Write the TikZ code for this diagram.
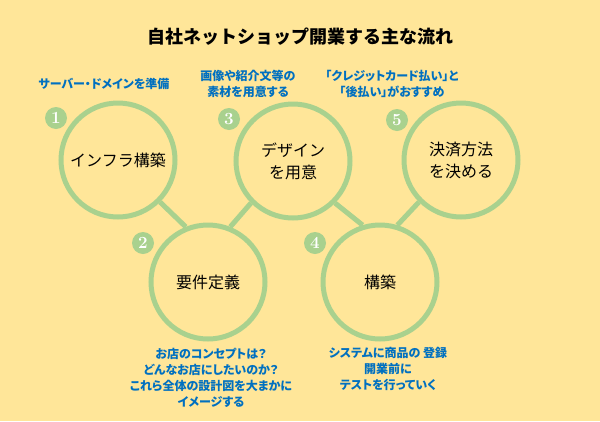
\documentclass[tikz,border=0pt]{standalone}
\usepackage{fontspec}
\newfontfamily\jpfont{Noto Sans CJK JP}
\newfontfamily\jpnote[RawFeature=+palt]{Noto Sans CJK JP}
\definecolor{bgyellow}{HTML}{FFE699}
\definecolor{ringgreen}{HTML}{A9D18E}
\definecolor{noteblue}{HTML}{0070C0}
\tikzset{
  stage/.style={circle, draw=ringgreen, line width=5pt, minimum size=114pt, inner sep=0pt, align=center, font=\jpfont\fontsize{16}{22}\selectfont},
  badge/.style={circle, fill=ringgreen, text=white, minimum size=22pt, inner sep=0pt, font=\fontsize{17}{17}\selectfont\bfseries},
  note/.style={text=noteblue, align=center, font=\jpnote\fontsize{12}{16}\selectfont\bfseries},
  link/.style={draw=ringgreen, line width=5pt},
}
\begin{document}
\begin{tikzpicture}[x=1pt, y=-1pt]
        \fill[bgyellow] (0,0) rectangle (600,421);
        \useasboundingbox (0,0) rectangle (600,421);
        \node[font=\jpfont\fontsize{18}{18}\selectfont\bfseries] (title) at (300,37) {自社ネットショップ開業する主な流れ};
        % stages
        \node[stage] (c1) at (118,160) {インフラ構築};
        \node[stage] (c2) at (208,282) {要件定義};
        \node[stage] (c3) at (293,161) {デザイン\\を用意};
        \node[stage] (c4) at (380,282) {構築};
        \node[stage] (c5) at (461,160) {決済方法\\を決める};
        \draw[link] (c1.-45) -- (c2.112);
        \draw[link] (c2.68) -- (c3.-135);
        \draw[link] (c3.-45) -- (c4.107);
        \draw[link] (c4.73) -- (c5.-135);
        % numbers
        \node[badge] (b1) at (56,118) {1};
        \node[badge] (b2) at (143,243) {2};
        \node[badge] (b3) at (229,119) {3};
        \node[badge] (b4) at (315,243) {4};
        \node[badge] (b5) at (397,120) {5};
        % notes
        \node[note] (n1) at (104,84) {サーバー・ドメインを準備};
        \node[note] (n3) at (248,84) {画像や紹介文等の\\素材を用意する};
        \node[note] (n5) at (392,84) {「クレジットカード払い」と\\「後払い」がおすすめ};
        \node[note] (n2) at (211,378) {お店のコンセプトは？\\どんなお店にしたいのか？\\これら全体の設計図を大まかに\\イメージする};
        \node[note] (n4) at (388,369) {システムに商品の 登録\\開業前に\\テストを行っていく};
    \end{tikzpicture}
\end{document}
